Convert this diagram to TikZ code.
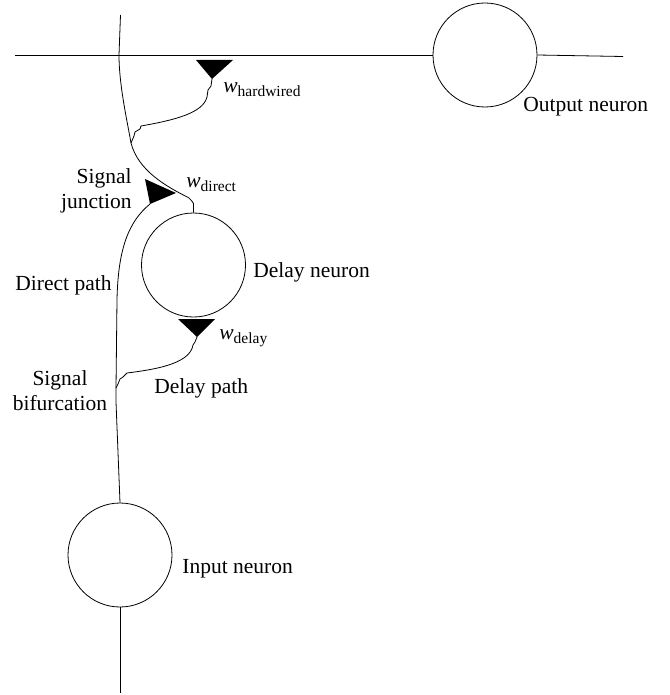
\documentclass[tikz,border=0pt]{standalone}
\usepackage{fontspec}
\setmainfont{Liberation Serif}
\usepackage{tikz}
\newcommand{\wsub}[1]{\textit{w}\raisebox{-4pt}{\fontsize{15.5}{16}\selectfont #1}}

\begin{document}
\begin{tikzpicture}[x=1pt, y=-1pt, line width=0.8pt,
	font=\fontsize{21.5}{25}\selectfont,
	neuron/.style={circle, draw, minimum size=104pt, inner sep=0pt},
	txt/.style={inner sep=0pt}]
\useasboundingbox (0,0) rectangle (669,695);
% neurons
\node [neuron] (out) at (485,55) {};
\node [neuron] (delay) at (193.5,265) {};
\node [neuron] (in) at (120,555) {};
% ends and branch points
\coordinate (top) at (120.5,15);
\coordinate (cross) at (119,55);
\coordinate (left) at (15,55);
\coordinate (right) at (623,56.5);
\coordinate (bottom) at (120,693);
\coordinate (branch) at (131,143);
\coordinate (bif) at (116,388);
% synapses
\coordinate (hw) at (212,79);
\coordinate (dl) at (197,337);
\coordinate (jn) at (176,193);
\coordinate (jnb) at (150,204);
\fill (hw) -- ++(-16,-19) -- ++(37,0) -- cycle;
\fill (dl) -- ++(-19,-18) -- ++(37,0) -- cycle;
\fill (jn) -- ++(-31,-14) -- (jnb) -- cycle;
% wires
\draw (left) -- (out.west);
\draw (out.east) -- (right);
\draw (top) -- (cross);
\draw (delay.north) -- ++(0,-9) -- ++(-2,-3) -- ++(-3,-3)
	.. controls (165,186) and (138,170) .. (branch)
	.. controls (127,120) and (119,85) .. (cross);
\draw (branch) -- ++(3,-7) -- ++(1,-4) -- ++(5,-3) -- ++(1,-3)
	.. controls (175,120) and (203,113) .. (207,97) -- ++(1,-7) -- ++(3,-4) -- (hw);
\draw (bif) -- (117,300) .. controls (118,250) and (128,222) .. (jnb);
\draw (dl) -- ++(-2,5) -- ++(-2,3)
	.. controls (190,365) and (150,370) .. (127,373) -- ++(-4,4) -- ++(-3,2) -- ++(-2,5) -- (bif);
\draw (bif) -- ++(0,14) -- (in.north);
\draw (in.south) -- (bottom);
% labels
\node [txt, anchor=base west] (outlbl) at (523,112) {Output neuron};
\node [txt, anchor=base west] (delaylbl) at (253,277) {Delay neuron};
\node [txt, anchor=base west] (inlbl) at (182,573) {Input neuron};
\node [txt, anchor=base west] (directlbl) at (15,290) {Direct path};
\node [txt, anchor=base west] (delaypathlbl) at (154,393) {Delay path};
\node [txt, anchor=east, align=right] (junclbl) at (132,191) {Signal\\junction};
\node [txt, align=center] (biflbl) at (60,391) {Signal\\bifurcation};
\node [txt, anchor=base west] (hwlbl) at (223,93) {\wsub{hardwired}};
\node [txt, anchor=base west] (dirlbl) at (186,187) {\wsub{direct}};
\node [txt, anchor=base west] (dlylbl) at (219,339) {\wsub{delay}};
\end{tikzpicture}
\end{document}
